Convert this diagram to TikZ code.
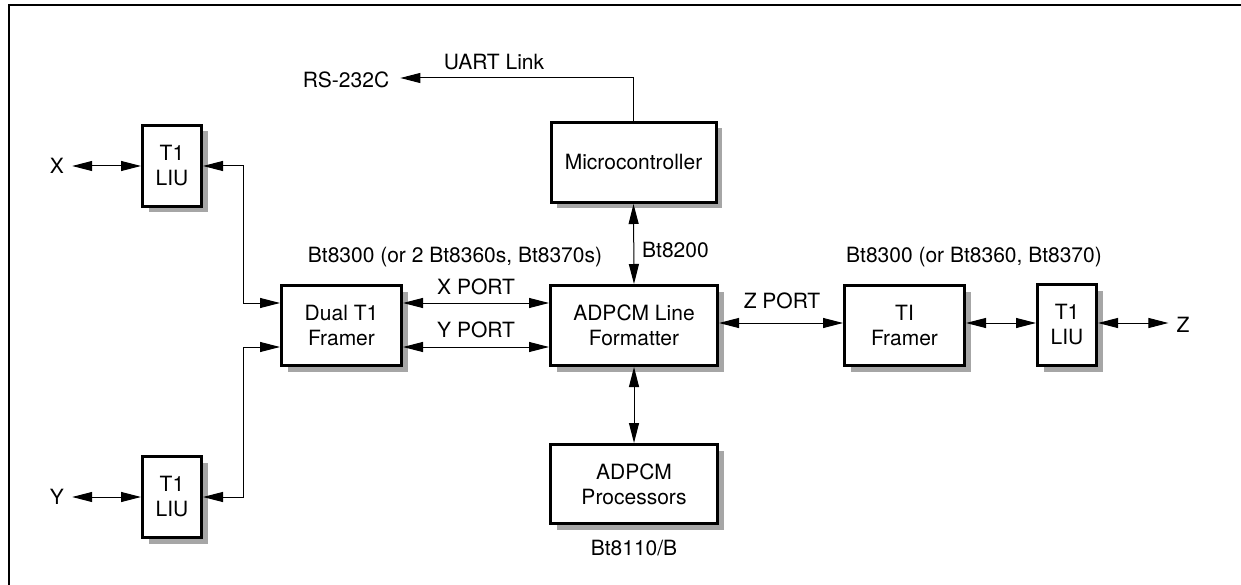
\documentclass[tikz,border=0pt]{standalone}
\usepackage{fontspec}
\setmainfont{TeX Gyre Heros}
\usetikzlibrary{arrows.meta,shadows}
\begin{document}
\begin{tikzpicture}[x=1pt,y=-1pt,
  every node/.style={font=\fontsize{21}{25}\selectfont},
  blk/.style={draw,line width=3pt,fill=white,inner sep=0pt,align=center,
    drop shadow={shadow xshift=6pt,shadow yshift=-6pt,fill=black!35,opacity=1}},
  lbl/.style={inner sep=0pt},
  conn/.style={line width=1pt,-{Triangle[length=20pt,width=10pt]}},
  dbl/.style={line width=1pt,{Triangle[length=20pt,width=10pt]}-{Triangle[length=20pt,width=10pt]}}]
\useasboundingbox (0,0) rectangle (1241,585);
\draw[line width=2pt] (9,585) -- (9,5) -- (1241,5);
% blocks
\node[blk,minimum width=59pt,minimum height=81pt] (liuX) at (172,166) {T1\\LIU};
\node[blk,minimum width=59pt,minimum height=81pt] (liuY) at (172,497) {T1\\LIU};
\node[blk,minimum width=120pt,minimum height=80pt] (dual) at (341.5,325.5) {Dual T1\\Framer};
\node[blk,minimum width=165pt,minimum height=80pt] (micro) at (633.5,162.5) {Microcontroller};
\node[blk,minimum width=167pt,minimum height=80pt] (fmt) at (634,325.5) {ADPCM Line\\Formatter};
\node[blk,minimum width=167pt,minimum height=79pt] (proc) at (634,484) {ADPCM\\Processors};
\node[blk,minimum width=120pt,minimum height=80pt] (tif) at (904.5,325.5) {TI\\Framer};
\node[blk,minimum width=59pt,minimum height=81pt] (liuZ) at (1067,325) {T1\\LIU};
% terminal labels
\node[inner xsep=8pt,inner ysep=0pt] (X) at (57,166) {X};
\node[inner xsep=8pt,inner ysep=0pt] (Y) at (57,497) {Y};
\node[inner xsep=8pt,inner ysep=0pt] (Z) at (1183,325) {Z};
\node[inner xsep=11pt,inner ysep=0pt] (rs) at (346,80) {RS-232C};
% text labels
\node[lbl] (uart) at (494,62) {UART Link};
\node[lbl,anchor=west] (bt8200) at (642,250) {Bt8200};
\node[lbl] (bt8110) at (634,548) {Bt8110/B};
\node[lbl] (bt8300a) at (455,257) {Bt8300 (or 2 Bt8360s, Bt8370s)};
\node[lbl] (bt8300b) at (974,257) {Bt8300 (or Bt8360, Bt8370)};
\node[lbl] (xport) at (476,287) {X PORT};
\node[lbl] (yport) at (476,330) {Y PORT};
\node[lbl] (zport) at (782,301) {Z PORT};
% helper levels
\coordinate (yx) at (0,303);
\coordinate (yy) at (0,347);
\coordinate (yz) at (0,323);
\coordinate (uy) at (0,78);
\coordinate (jx) at (243,0);
% connectors
\draw[dbl] (X) -- (liuX);
\draw[dbl] (Y) -- (liuY);
\draw[dbl] (liuX.east) -- (jx |- liuX.east) |- (dual.west |- yx);
\draw[dbl] (liuY.east) -- (jx |- liuY.east) |- (dual.west |- yy);
\draw[dbl] (dual.east |- yx) -- (fmt.west |- yx);
\draw[dbl] (dual.east |- yy) -- (fmt.west |- yy);
\draw[dbl] (micro.south) -- (fmt.north);
\draw[dbl] (fmt.south) -- (proc.north);
\draw[conn] (micro.north) -- (micro.north |- uy) -- (rs.east |- uy);
\draw[dbl] (fmt.east |- yz) -- (tif.west |- yz);
\draw[dbl] (tif.east |- yz) -- (liuZ.west |- yz);
\draw[dbl] (liuZ.east |- yz) -- (Z.west |- yz);
\end{tikzpicture}
\end{document}
